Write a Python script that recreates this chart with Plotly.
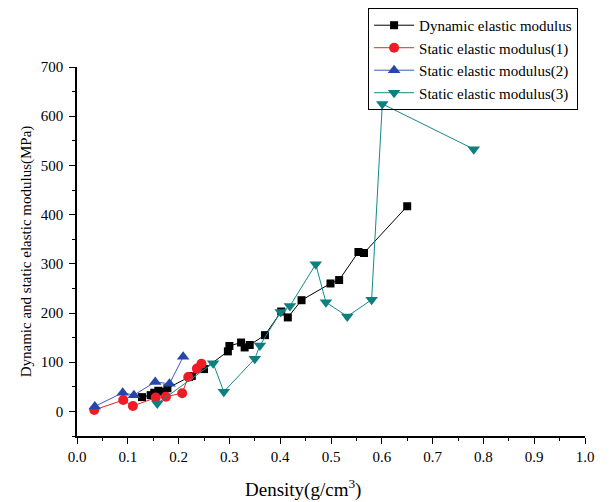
import plotly.graph_objects as go

dyn_x = [0.128, 0.145, 0.152, 0.160, 0.168, 0.178, 0.221, 0.226, 0.250, 0.297, 0.300,
         0.323, 0.330, 0.340, 0.370, 0.402, 0.415, 0.442, 0.499, 0.516, 0.554, 0.565, 0.650]
dyn_y = [29, 33, 38, 42, 40, 47, 70, 72, 86, 122, 133,
         140, 130, 135, 155, 203, 191, 226, 260, 267, 324, 322, 417]

s1_x = [0.034, 0.091, 0.110, 0.155, 0.175, 0.207, 0.219, 0.236, 0.245]
s1_y = [3, 23, 11, 28, 30, 37, 70, 87, 97]

s2_x = [0.035, 0.090, 0.112, 0.154, 0.182, 0.209]
s2_y = [10, 38, 33, 60, 56, 111]

s3_x = [0.158, 0.268, 0.289, 0.350, 0.360, 0.401, 0.419, 0.470, 0.490, 0.532, 0.580, 0.601, 0.781]
s3_y = [16, 98, 40, 107, 134, 202, 214, 299, 222, 193, 227, 625, 533]

names = ["Dynamic elastic modulus", "Static elastic modulus(1)",
         "Static elastic modulus(2)", "Static elastic modulus(3)"]

x_title = "Density(g/cm<sup>3</sup>)"
y_title = "Dynamic and static elastic modulus(MPa)"

FONT = "Liberation Serif"

fig = go.Figure()
fig.add_trace(go.Scatter(x=dyn_x, y=dyn_y, mode="lines+markers", name=names[0],
                         line=dict(color="#000000", width=1),
                         marker=dict(symbol="square", size=8, color="#000000")))
fig.add_trace(go.Scatter(x=s1_x, y=s1_y, mode="lines+markers", name=names[1],
                         line=dict(color="#EE2222", width=1),
                         marker=dict(symbol="circle", size=10, color="#EE1C25")))
fig.add_trace(go.Scatter(x=s2_x, y=s2_y, mode="lines+markers", name=names[2],
                         line=dict(color="#3A5CBF", width=1),
                         marker=dict(symbol="triangle-up", size=11, color="#2447A8")))
fig.add_trace(go.Scatter(x=s3_x, y=s3_y, mode="lines+markers", name=names[3],
                         line=dict(color="#138A8A", width=1),
                         marker=dict(symbol="triangle-down", size=11, color="#0E7F7F")))

fig.add_annotation(text=x_title, xref="paper", yref="paper", x=0.445, y=-0.141,
                   xanchor="center", yanchor="middle", showarrow=False,
                   font=dict(family=FONT, size=19, color="#000000"))

fig.update_layout(
    width=603, height=494,
    margin=dict(l=69, r=26, t=59, b=66, autoexpand=False),
    plot_bgcolor="white", paper_bgcolor="white",
    font=dict(family=FONT, color="#000000", size=14),
    legend=dict(x=0.573, y=1.16, xanchor="left", yanchor="top",
                bordercolor="#000000", borderwidth=1, bgcolor="rgba(255,255,255,0)",
                font=dict(family=FONT, size=15), tracegroupgap=0,
                itemwidth=40),
    xaxis=dict(range=[0, 1.0], dtick=0.1, tick0=0, tickformat=".1f",
               showline=True, linecolor="#000000", linewidth=1.5,
               ticks="outside", ticklen=6, tickwidth=1.2, tickcolor="#000000",
               minor=dict(dtick=0.05, ticks="outside", ticklen=3, tickcolor="#000000"),
               showgrid=False, zeroline=False, automargin=False,
               tickfont=dict(family=FONT, size=15)),
    yaxis=dict(range=[-50, 700], dtick=100, tick0=0,
               showline=True, linecolor="#000000", linewidth=1.5,
               ticks="outside", ticklen=6, tickwidth=1.2, tickcolor="#000000",
               minor=dict(dtick=50, ticks="outside", ticklen=3, tickcolor="#000000"),
               showgrid=False, zeroline=False, automargin=False,
               ticklabelstandoff=3,
               tickfont=dict(family=FONT, size=15),
               title=dict(text=y_title, font=dict(family=FONT, size=15), standoff=6)),
)

fig.write_html("out.html")
